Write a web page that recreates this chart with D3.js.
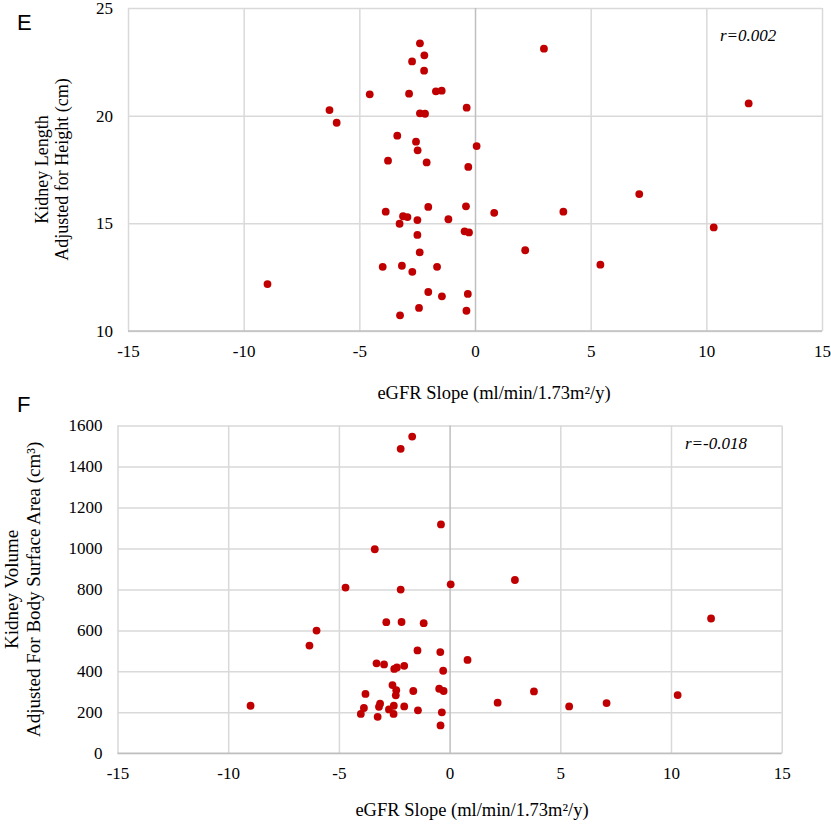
<!DOCTYPE html>
<html><head><meta charset="utf-8">
<script src="https://cdn.jsdelivr.net/npm/d3@7"></script>
<style>body{margin:0;background:#fff}svg{display:block}</style>
</head><body>
<svg id="c" width="831" height="831"></svg>
<script>
// ---- data ----
const xTicks = [-15, -10, -5, 0, 5, 10, 15];
const lengthTicks = [10, 15, 20, 25];
const volumeTicks = [0, 200, 400, 600, 800, 1000, 1200, 1400, 1600];

// Panel E: eGFR slope vs kidney length adjusted for height
const slopeE = [-2.38,-2.19,-2.72,-2.20,-4.55,-2.85,-1.69,-1.44,-6.29,-5.98,-2.38,-2.16,-0.36,-3.36,-2.55,-2.48,-3.76,-2.09,-0.29,0.07,
  -3.86,-2.02,-0.39,-3.11,-2.92,-3.26,-2.49,-1.15,0.83,-0.45,-0.26,-2.49,2.17,-2.39,-3.99,-3.16,-2.71,-1.64,-8.97,-2.02,
  -1.43,-0.31,-2.42,-0.37,-3.24,2.98,11.83,7.10,3.82,10.32,5.42];
const lengthE = [23.36,22.80,22.52,22.09,20.99,21.02,21.13,21.16,20.26,19.67,20.11,20.09,20.37,19.07,18.79,18.39,17.91,17.83,17.62,18.59,
  15.54,15.76,15.79,15.33,15.29,14.98,15.15,15.19,15.49,14.63,14.58,14.46,13.75,13.65,12.98,13.03,12.75,12.98,12.18,11.81,
  11.61,11.72,11.07,10.94,10.73,23.11,20.57,16.36,15.54,14.81,13.08];

// Panel F: eGFR slope vs kidney volume adjusted for body surface area
const slopeF = [-1.69,-2.21,-0.39,-3.38,-4.70,-2.21,0.05,2.95,-2.86,-2.17,-1.17,-6.01,-6.33,-1.45,-0.42,0.81,-3.30,-2.96,-2.50,-2.38,
  -2.05,-0.29,-2.58,-2.41,-2.43,-1.64,-0.47,-0.27,-3.80,-8.99,-3.87,-4.01,-3.14,-3.19,-3.25,-2.52,-2.74,-2.53,-2.05,-1.43,
  -0.35,-0.41,2.17,3.81,5.40,7.09,10.30,11.81];
const volumeF = [1546,1486,1117,996,809,799,825,846,640,641,635,599,526,502,494,456,439,434,412,419,
  427,403,333,308,283,304,315,304,290,232,221,192,242,227,178,232,214,192,229,210,
  200,136,247,302,229,245,284,658];

// ---- drawing ----
const svg = d3.select("#c");
const serif = "'Liberation Serif','Times New Roman',serif";
const RED = "#c00000", GRID = "#d9d9d9", AXIS = "#bfbfbf";

function panel(o) {
  const x = d3.scaleLinear().domain([-15, 15]).range([o.left, o.right]);
  const y = d3.scaleLinear().domain(o.yDomain).range([o.bottom, o.top]);
  const g = svg.append("g");

  // horizontal gridlines (y axis with long ticks)
  const ya = g.append("g").attr("transform", `translate(${o.left},0)`)
    .call(d3.axisLeft(y).tickValues(o.yTicks).tickSize(-(o.right - o.left)).tickPadding(15).tickFormat(d3.format("d")));
  ya.select(".domain").remove();
  ya.selectAll(".tick line").attr("stroke", GRID).attr("stroke-width", 1.5);
  ya.selectAll(".tick text").attr("font-family", serif).attr("font-size", 17).attr("fill", "#000");

  // vertical gridlines + x tick labels
  const xa = g.append("g").attr("transform", `translate(0,${o.bottom})`)
    .call(d3.axisBottom(x).tickValues(xTicks).tickSize(-(o.bottom - o.top)).tickPadding(14).tickFormat(d3.format("d")));
  xa.select(".domain").remove();
  xa.selectAll(".tick line").attr("stroke", d => d === 0 ? AXIS : GRID).attr("stroke-width", 1.5);
  xa.selectAll(".tick text").attr("font-family", serif).attr("font-size", 17).attr("fill", "#000")
    .text(d => d < 0 ? "-" + Math.abs(d) : d);

  // bottom axis line
  g.append("line").attr("x1", o.left).attr("x2", o.right).attr("y1", o.bottom).attr("y2", o.bottom)
    .attr("stroke", AXIS).attr("stroke-width", 1.5);

  // points
  g.append("g").selectAll("circle").data(o.xs.map((v, i) => [v, o.ys[i]])).join("circle")
    .attr("cx", d => x(d[0])).attr("cy", d => y(d[1])).attr("r", 3.9).attr("fill", RED);

  // r annotation
  g.append("text").attr("x", o.rX).attr("y", o.rY).attr("font-family", serif).attr("font-style", "italic")
    .attr("font-size", 17).text(o.rText);

  // panel letter
  g.append("text").attr("x", 17).attr("y", o.letterY).attr("font-family", "'Liberation Sans',Arial,sans-serif")
    .attr("font-size", 22).text(o.letter);

  // x title
  const xt = g.append("text").attr("x", o.xTitleX).attr("y", o.xTitleY).attr("text-anchor", "middle")
    .attr("font-family", serif).attr("font-size", 18.5);
  xt.text("eGFR Slope (ml/min/1.73m\u00B2/y)");

  // y title (two lines)
  const cy = (o.top + o.bottom) / 2;
  o.yTitle.forEach((t, i) => {
    g.append("text").attr("transform", `translate(${o.yTitleX[i]},${cy}) rotate(-90)`)
      .attr("text-anchor", "middle").attr("dy", "0.35em")
      .attr("font-family", serif).attr("font-size", o.yTitleSize).text(t);
  });
}

panel({
  left: 128, right: 822, top: 8, bottom: 331,
  yDomain: [10, 25], yTicks: lengthTicks,
  xs: slopeE, ys: lengthE,
  rText: "r=0.002", rX: 720, rY: 41,
  letter: "E", letterY: 30,
  xTitleX: 494, xTitleY: 399,
  yTitle: ["Kidney Length", "Adjusted for Height (cm)"], yTitleX: [42, 62], yTitleSize: 18
});

panel({
  left: 117.5, right: 781.7, top: 425.5, bottom: 753.3,
  yDomain: [0, 1600], yTicks: volumeTicks,
  xs: slopeF, ys: volumeF,
  rText: "r=-0.018", rX: 685, rY: 449,
  letter: "F", letterY: 412,
  xTitleX: 472, xTitleY: 816,
  yTitle: ["Kidney Volume", "Adjusted For Body Surface Area (cm\u00B3)"], yTitleX: [11, 33], yTitleSize: 19
});
</script>
</body></html>
